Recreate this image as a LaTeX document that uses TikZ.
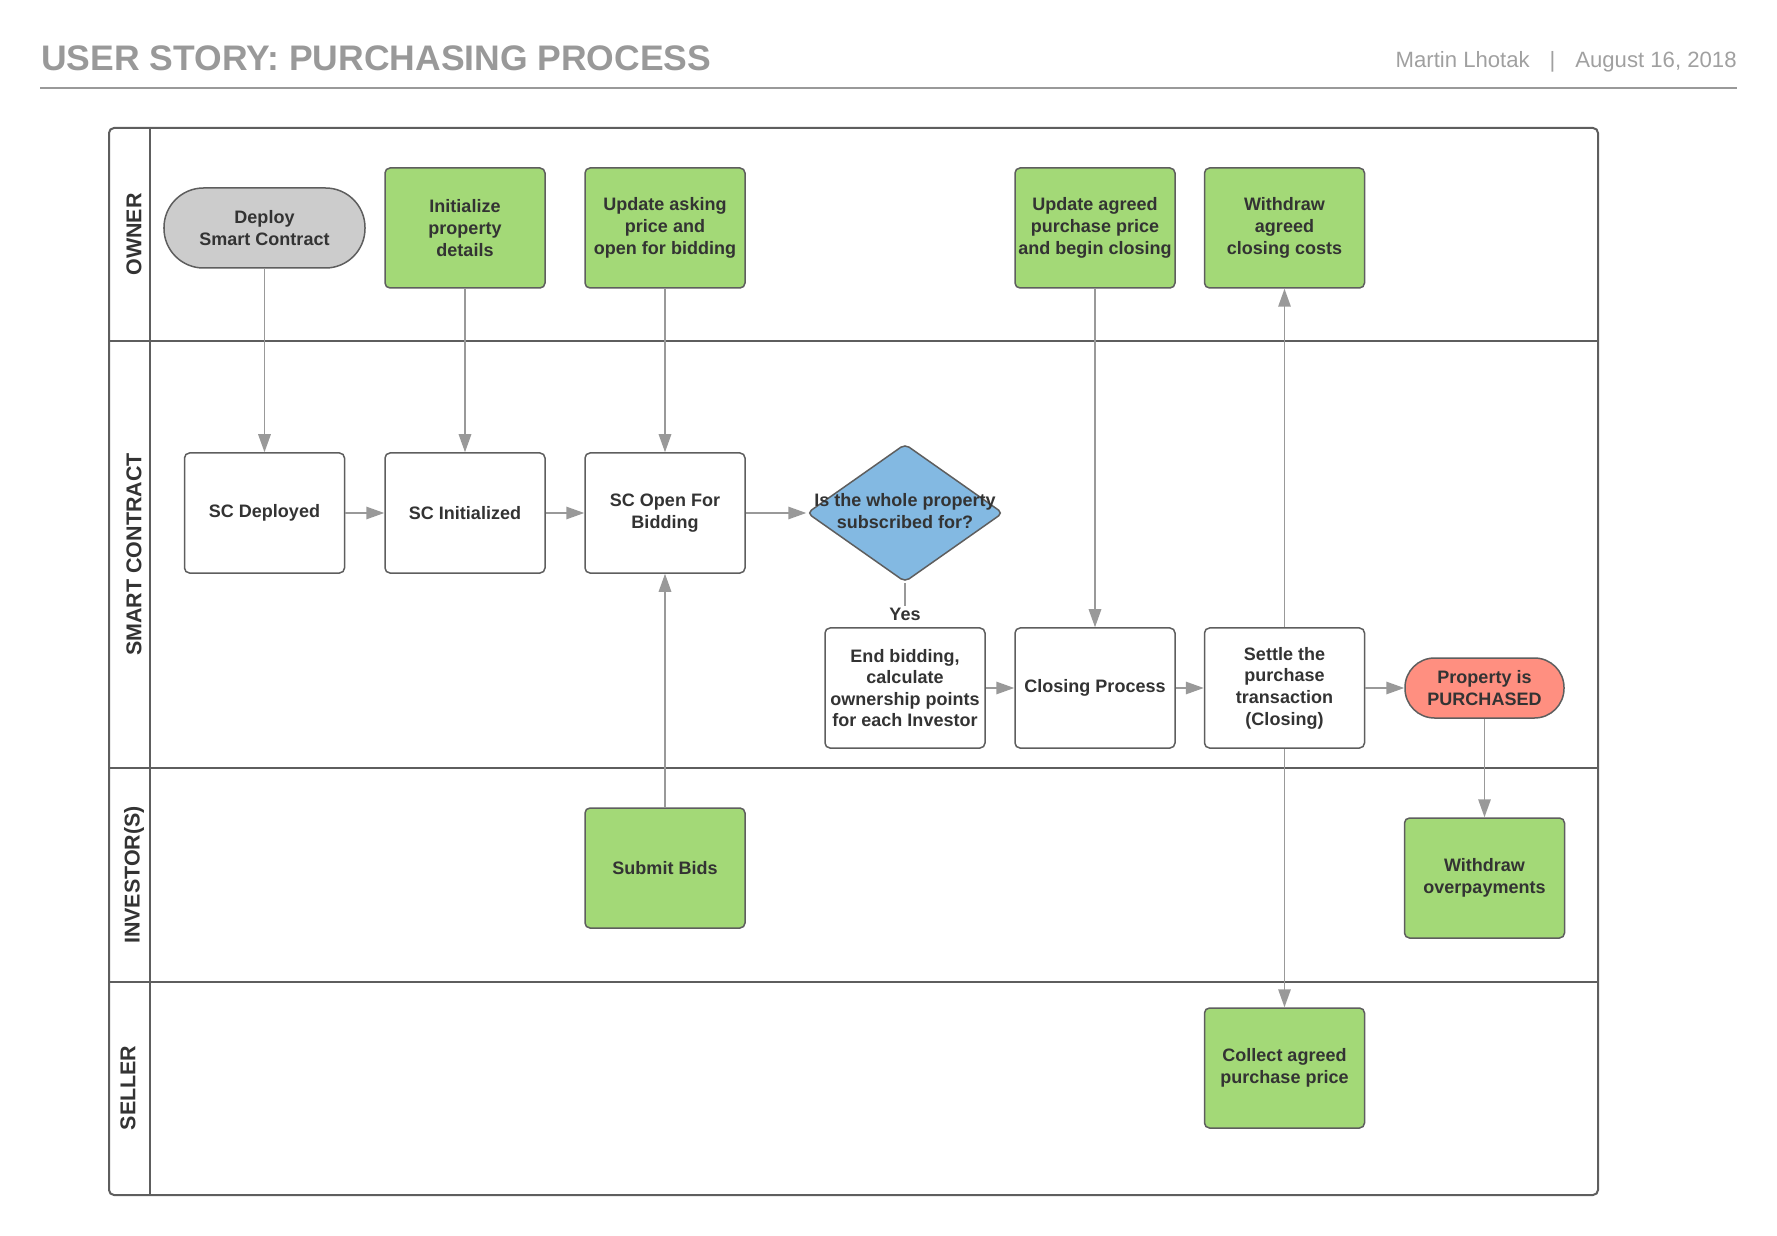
\documentclass[tikz,border=0pt]{standalone}
\usepackage{fontspec}
\setmainfont{Liberation Sans}
\usetikzlibrary{arrows.meta,shapes.geometric}
\definecolor{titlegray}{HTML}{999999}
\definecolor{authgray}{HTML}{A0A0A0}
\definecolor{framegray}{HTML}{5E5E5E}
\definecolor{linegray}{HTML}{999999}
\definecolor{txtgray}{HTML}{333333}
\definecolor{boxgreen}{HTML}{A3D977}
\definecolor{startgray}{HTML}{CCCCCC}
\definecolor{decblue}{HTML}{83B9E2}
\definecolor{endred}{HTML}{FF8F80}

\begin{document}
\begin{tikzpicture}[x=0.2mm,y=-0.2mm,every node/.style={font=\fontsize{10.25}{12.3}\selectfont\bfseries,text=txtgray,align=center,inner sep=1pt}]
	\tikzstyle{task}=[draw=framegray,line width=0.3mm,rounded corners=1mm,minimum width=32mm,minimum height=24mm,fill=white]
	\tikzstyle{action}=[task,fill=boxgreen]
	\tikzstyle{terminal}=[draw=framegray,line width=0.3mm,minimum width=31.8mm,minimum height=12mm,rounded corners=5.9mm]
	\tikzstyle{decision}=[diamond,draw=framegray,line width=0.3mm,rounded corners=1mm,fill=decblue,minimum width=39.2mm,minimum height=27.6mm,inner sep=0pt]
	\tikzstyle{flow}=[draw=linegray,line width=0.3mm,-{Triangle[length=3.6mm,width=2.5mm]}]
	\tikzstyle{lane}=[rotate=90,font=\fontsize{12.2}{14}\selectfont\bfseries]
	\tikzstyle{frame}=[draw=framegray,line width=0.4mm]
	
	\useasboundingbox (0,0) rectangle (1777,1236);
	
	% Kopfzeile
	\node (title) [anchor=base west,inner sep=0pt,text=titlegray,font=\fontsize{20.2}{24}\selectfont\bfseries] at (41,71) {USER STORY: PURCHASING PROCESS};
	\node (author) [anchor=base east,inner sep=0pt,text=authgray,font=\fontsize{12.6}{15}\selectfont] at (1737,68) {Martin Lhotak\hspace{0.9em}|\hspace{0.9em}August 16, 2018};
	\draw [draw=linegray,line width=0.4mm] (40,88) -- (1737,88);
	
	% Bahnen
	\draw [frame,rounded corners=1mm] (109,128) rectangle (1598,1195);
	\draw [frame] (150,128) -- (150,1195);
	\foreach \y in {341,768,982} \draw [frame] (109,\y) -- (1598,\y);
	\node (lowner) [lane] at (134,234.5) {OWNER};
	\node (lsc) [lane] at (134,554.5) {SMART CONTRACT};
	\node (linv) [lane] at (134,875) {INVESTOR(S)};
	\node (lseller) [lane] at (128,1088) {SELLER};
	
	% Owner
	\node (deploy) [terminal,fill=startgray,minimum width=40.2mm,minimum height=16mm,rounded corners=7.9mm] at (264.5,228) {Deploy\\Smart Contract};
	\node (init) [action] at (465,228) {Initialize\\property\\details};
	\node (askprice) [action] at (665,228) {Update asking\\price and\\open for bidding};
	\node (agreed) [action] at (1095,228) {Update agreed\\purchase price\\and begin closing};
	\node (wdcosts) [action] at (1284.5,228) {Withdraw\\agreed\\closing costs};
	
	% Smart Contract
	\node (scdep) [task] at (264.5,513) {SC Deployed};
	\node (scinit) [task] at (465,513) {SC Initialized};
	\node (scopen) [task] at (665,513) {SC Open For\\Bidding};
	\node (dec) [decision] at (905,513) {};
	\node (dectext) at (905,511) {Is the whole property\\subscribed for?};
	\node (yes) at (905,614) {Yes};
	\node (endbid) [task] at (905,688) {End bidding,\\calculate\\ownership points\\for each Investor};
	\node (closing) [task] at (1095,688) {Closing Process};
	\node (settle) [task] at (1284.5,688) {Settle the\\purchase\\transaction\\(Closing)};
	\node (purchased) [terminal,fill=endred] at (1484.5,688) {Property is\\PURCHASED};
	
	% Investor(s), Seller
	\node (bids) [action] at (665,868) {Submit Bids};
	\node (wdover) [action] at (1484.5,878) {Withdraw\\overpayments};
	\node (collect) [action] at (1284.5,1068) {Collect agreed\\purchase price};
	
	% Verbindungen
	\draw [flow] (deploy) -- (scdep);
	\draw [flow] (init) -- (scinit);
	\draw [flow] (askprice) -- (scopen);
	\draw [flow] (scdep) -- (scinit);
	\draw [flow] (scinit) -- (scopen);
	\draw [flow] (scopen) -- (dec);
	\draw [draw=linegray,line width=0.3mm] (dec.south) -- (yes.north);
	\draw [flow] (endbid) -- (closing);
	\draw [flow] (closing) -- (settle);
	\draw [flow] (settle) -- (purchased);
	\draw [flow] (agreed) -- (closing);
	\draw [flow] (settle) -- (wdcosts);
	\draw [flow] (settle) -- (collect);
	\draw [flow] (bids) -- (scopen);
	\draw [flow] (purchased) -- (wdover);
\end{tikzpicture}
\end{document}
